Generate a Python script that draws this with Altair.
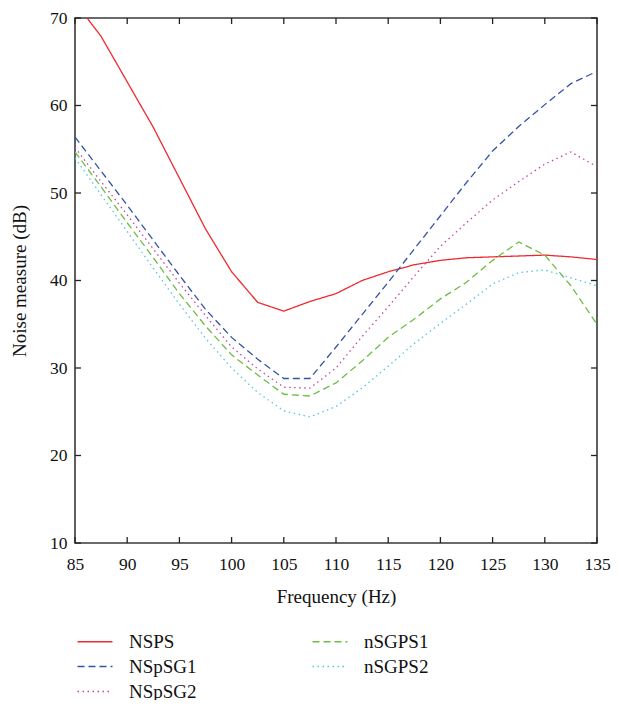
import altair as alt
import pandas as pd

# ---- data ----
freq = [85, 87.5, 90, 92.5, 95, 97.5, 100, 102.5, 105, 107.5, 110,
        112.5, 115, 117.5, 120, 122.5, 125, 127.5, 130, 132.5, 135]

NSPS = [71.8, 67.9, 62.7, 57.5, 51.7, 45.9, 41.0, 37.5, 36.5, 37.6, 38.5,
        40.0, 41.0, 41.8, 42.3, 42.6, 42.7, 42.8, 42.9, 42.7, 42.4]
NSpSG1 = [56.4, 52.5, 48.6, 44.6, 40.6, 36.7, 33.5, 31.0, 28.8, 28.8, 32.4,
          36.1, 39.8, 43.6, 47.4, 51.2, 54.8, 57.6, 60.1, 62.5, 63.9]
NSpSG2 = [55.2, 51.3, 47.5, 43.6, 39.7, 36.0, 32.4, 29.9, 27.8, 27.7, 30.0,
          33.6, 37.0, 40.5, 43.9, 46.6, 49.2, 51.3, 53.3, 54.7, 53.0]
nSGPS1 = [54.7, 50.7, 46.6, 42.6, 38.5, 34.8, 31.5, 29.2, 27.0, 26.8, 28.3,
          30.8, 33.5, 35.6, 37.9, 39.8, 42.3, 44.4, 42.9, 39.4, 35.0]
nSGPS2 = [54.0, 49.8, 45.6, 41.4, 37.3, 33.4, 30.0, 27.2, 25.1, 24.4, 25.6,
          27.7, 30.2, 32.8, 35.1, 37.3, 39.6, 40.9, 41.2, 40.3, 39.4]

series_names = ["NSPS", "NSpSG1", "NSpSG2", "nSGPS1", "nSGPS2"]
series_values = [NSPS, NSpSG1, NSpSG2, nSGPS1, nSGPS2]

x_ticks = [85, 90, 95, 100, 105, 110, 115, 120, 125, 130, 135]
y_ticks = [10, 20, 30, 40, 50, 60, 70]

colors = {"NSPS": "#ee2a2e", "NSpSG1": "#3453a6", "NSpSG2": "#c244a8",
          "nSGPS1": "#6cbd45", "nSGPS2": "#55c6e0"}
dashes = {"NSPS": [1, 0], "NSpSG1": [7, 4], "NSpSG2": [1.5, 3.5],
          "nSGPS1": [7, 4], "nSGPS2": [1.5, 3.5]}

rows = []
for name, vals in zip(series_names, series_values):
    for f, v in zip(freq, vals):
        rows.append({"freq": f, "value": v, "series": name})
df = pd.DataFrame(rows)

W, H = 522, 525
TOP = 10
FONT = "Liberation Serif"

xscale = alt.Scale(domain=[85, 135], nice=False, zero=False)
yscale = alt.Scale(domain=[10, 70], nice=False, zero=False)

xaxis = alt.Axis(values=x_ticks, format="d", title="Frequency (Hz)",
                 labelPadding=12, titlePadding=15, labelFlush=False)
yaxis = alt.Axis(values=y_ticks, format="d", title="Noise measure (dB)",
                 labelPadding=8, titlePadding=20, labelFlush=False)

# long horizontal line symbol with a small nominal size keeps rows compact
legend = alt.Legend(
    title=None, orient="none", legendX=10.5, legendY=614, columns=2,
    columnPadding=112, rowPadding=5, symbolType="M-2.5,0H2.5", symbolSize=196,
    symbolStrokeWidth=1.5, labelFont=FONT, labelFontSize=19, labelOffset=24.5,
    labelColor="#111", padding=0,
)

lines = alt.Chart(df).mark_line(clip=True, strokeWidth=1.3).encode(
    x=alt.X("freq:Q", scale=xscale, axis=xaxis),
    y=alt.Y("value:Q", scale=yscale, axis=yaxis),
    color=alt.Color("series:N",
                    scale=alt.Scale(domain=series_names,
                                    range=[colors[s] for s in series_names]),
                    legend=legend),
    strokeDash=alt.StrokeDash("series:N",
                              scale=alt.Scale(domain=series_names,
                                              range=[dashes[s] for s in series_names]),
                              legend=legend),
)

xt = pd.DataFrame({"freq": x_ticks})
yt = pd.DataFrame({"value": y_ticks})
tick_style = dict(color="#222", strokeWidth=1.3)

bottom_ticks = alt.Chart(xt).mark_rule(**tick_style).encode(
    x=alt.X("freq:Q", scale=xscale, axis=xaxis), y=alt.value(H), y2=alt.value(H - 6))
top_ticks = alt.Chart(xt).mark_rule(**tick_style).encode(
    x=alt.X("freq:Q", scale=xscale, axis=xaxis), y=alt.value(0), y2=alt.value(6))
left_ticks = alt.Chart(yt).mark_rule(**tick_style).encode(
    y=alt.Y("value:Q", scale=yscale, axis=yaxis), x=alt.value(0), x2=alt.value(6))
right_ticks = alt.Chart(yt).mark_rule(**tick_style).encode(
    y=alt.Y("value:Q", scale=yscale, axis=yaxis), x=alt.value(W), x2=alt.value(W - 6))

chart = alt.layer(lines, bottom_ticks, top_ticks, left_ticks, right_ticks).properties(
    width=W, height=H,
    autosize=alt.AutoSizeParams(type="none"),
    padding={"left": 67, "top": TOP, "right": 14, "bottom": 692 - TOP - H},
).configure_view(
    stroke="#3a3a3a", strokeWidth=1.6
).configure_axis(
    domain=False, ticks=False, grid=False,
    labelFont=FONT, labelFontSize=17.5, labelColor="#111",
    titleFont=FONT, titleFontSize=19, titleFontWeight="normal", titleColor="#111",
)

chart.save("out.html", embed_options={"renderer": "svg", "actions": False})
